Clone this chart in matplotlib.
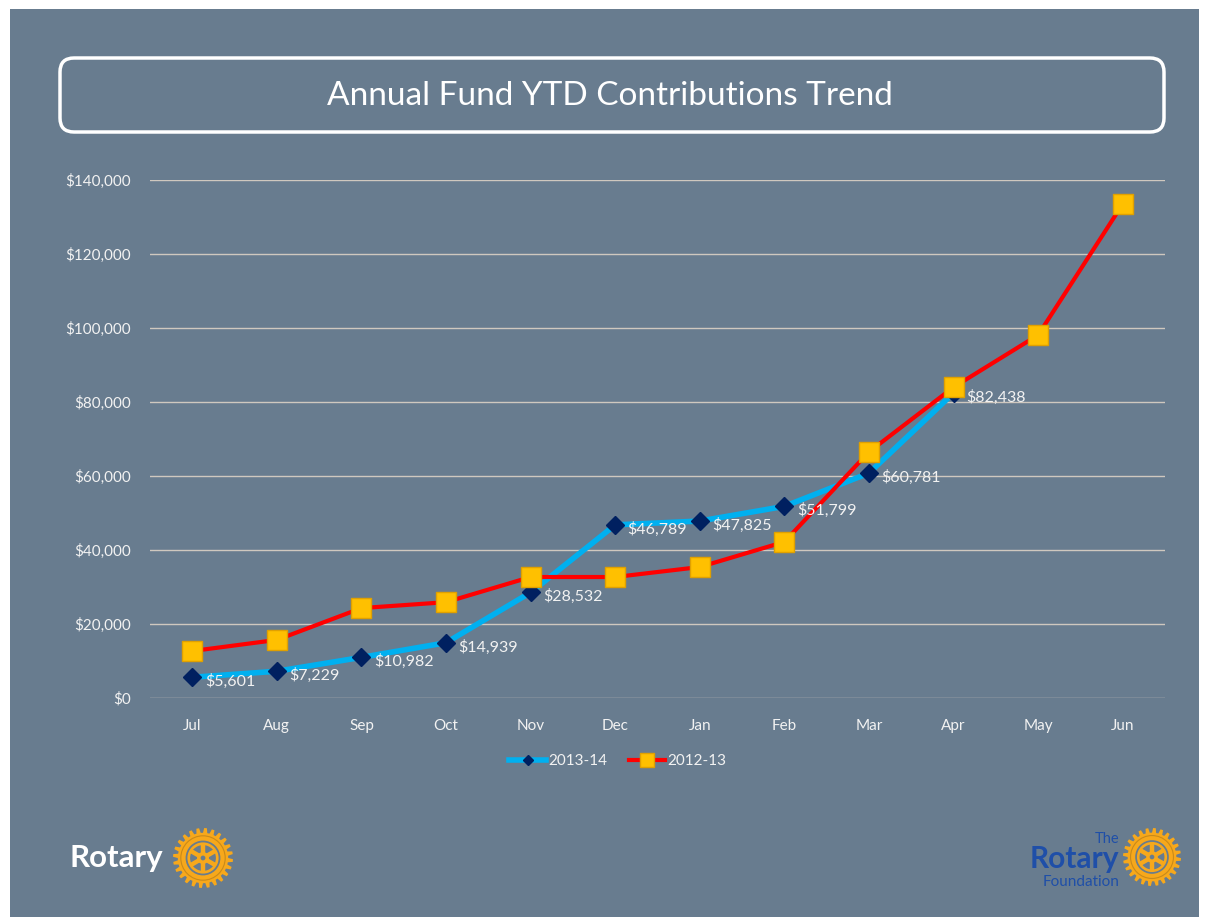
import numpy as np
import matplotlib

matplotlib.use("Agg")
import matplotlib.pyplot as plt
from matplotlib.patches import Rectangle, FancyBboxPatch, Circle, Polygon, Wedge
from matplotlib.lines import Line2D

plt.rcParams["font.family"] = ["Lato", "DejaVu Sans"]

# ---- data ----
months = ["Jul", "Aug", "Sep", "Oct", "Nov", "Dec", "Jan", "Feb", "Mar", "Apr", "May", "Jun"]
fy_2013_14 = [5601, 7229, 10982, 14939, 28532, 46789, 47825, 51799, 60781, 82438]
fy_2012_13 = [12700, 15700, 24300, 25900, 32700, 32700, 35400, 42200, 66500, 84000, 98100, 133500]
y_ticks = [0, 20000, 40000, 60000, 80000, 100000, 120000, 140000]

BG = "#687c8f"
TXT = "#f2f2f2"
GOLD = "#f7a81b"
RBLUE = "#1f4fa8"

W, H = 1209, 917
fig = plt.figure(figsize=(W / 100, H / 100), dpi=100, facecolor="white")

# background / decoration axes in pixel coords (y down)
bg = fig.add_axes([0, 0, 1, 1])
bg.set_xlim(0, W)
bg.set_ylim(H, 0)
bg.axis("off")
bg.add_patch(Rectangle((10, 9), 1189, 908, facecolor=BG, edgecolor="none"))
bg.add_patch(FancyBboxPatch((68, 66), 1088, 58, boxstyle="round,pad=8,rounding_size=14",
                            facecolor="none", edgecolor="white", lw=2.5))
bg.text(610, 96, "Annual Fund YTD Contributions Trend", ha="center", va="center",
        color="white", fontsize=24)


def gear(ax, cx, cy, r):
    n = 24
    pts = []
    for i in range(n):
        a0 = 2 * np.pi * i / n
        step = 2 * np.pi / n
        for frac, rad in [(0.0, 0.84), (0.15, 1.0), (0.5, 1.0), (0.65, 0.84)]:
            a = a0 + frac * step
            pts.append((cx + rad * r * np.cos(a), cy + rad * r * np.sin(a)))
    ax.add_patch(Polygon(pts, closed=True, facecolor=GOLD, edgecolor="none"))
    ax.add_patch(Circle((cx, cy), 0.74 * r, facecolor="none", edgecolor="#c98a1a", lw=0.8))
    ax.add_patch(Circle((cx, cy), 0.58 * r, facecolor=BG, edgecolor="none"))
    ax.add_patch(Wedge((cx, cy), 0.52 * r, 0, 360, width=0.09 * r, facecolor=GOLD, edgecolor="none"))
    for k in range(6):
        a = np.pi / 6 + k * np.pi / 3
        ax.plot([cx + 0.15 * r * np.cos(a), cx + 0.46 * r * np.cos(a)],
                [cy + 0.15 * r * np.sin(a), cy + 0.46 * r * np.sin(a)],
                color=GOLD, lw=3.2, solid_capstyle="butt")
    ax.add_patch(Circle((cx, cy), 0.2 * r, facecolor=GOLD, edgecolor="none"))
    ax.add_patch(Circle((cx, cy), 0.08 * r, facecolor=BG, edgecolor="none"))


bg.text(70, 858, "Rotary", ha="left", va="center", color="white", fontsize=22.5, fontweight="bold")
gear(bg, 203, 858, 30)
bg.text(1119, 839, "The", ha="right", va="center", color=RBLUE, fontsize=10.5)
bg.text(1119, 859, "Rotary", ha="right", va="center", color=RBLUE, fontsize=21.5, fontweight="bold")
bg.text(1119, 882, "Foundation", ha="right", va="center", color=RBLUE, fontsize=11)
gear(bg, 1152, 857, 29)

# ---- main chart ----
ax = fig.add_axes([150 / W, (H - 698) / H, 1015 / W, 518 / H])
ax.set_facecolor("none")
x = np.arange(len(months))
ax.set_xlim(-0.5, len(months) - 0.5)
ax.set_ylim(0, 140000)
ax.set_yticks(y_ticks)
ax.set_yticklabels([f"${v:,.0f}" for v in y_ticks])
ax.set_xticks(x)
ax.set_xticklabels(months)
ax.tick_params(length=0, colors=TXT, labelsize=11)
ax.tick_params(axis="y", pad=14)
ax.tick_params(axis="x", pad=15)
for s in ax.spines.values():
    s.set_visible(False)
ax.grid(axis="y", color="#cfc8bf", lw=1)
ax.set_axisbelow(True)

x13 = x[:len(fy_2013_14)]
ax.plot(x13, fy_2013_14, color="#00b0f0", lw=4, marker="D", ms=9,
        markerfacecolor="#002060", markeredgecolor="#002060", zorder=3)
ax.plot(x, fy_2012_13, color="#ff0000", lw=3, marker="s", ms=14,
        markerfacecolor="#ffc000", markeredgecolor="#e0a000", zorder=4)
for xi, v in zip(x13, fy_2013_14):
    ax.annotate(f"${v:,.0f}", (xi, v), xytext=(9, -3), textcoords="offset points",
                ha="left", va="center", color=TXT, fontsize=11.5, zorder=5)

handles = [
    Line2D([], [], color="#00b0f0", lw=4, marker="D", ms=5,
           markerfacecolor="#002060", markeredgecolor="#002060"),
    Line2D([], [], color="#ff0000", lw=3, marker="s", ms=10,
           markerfacecolor="#ffc000", markeredgecolor="#e0a000"),
]
fig.legend(handles, ["2013-14", "2012-13"], loc="center", ncol=2, frameon=False,
           bbox_to_anchor=(618 / W, 1 - 761 / H), fontsize=11, labelcolor=TXT,
           handlelength=2.4, handletextpad=0.15, columnspacing=1.4)

fig.savefig("out.png", dpi=100, facecolor="white")
